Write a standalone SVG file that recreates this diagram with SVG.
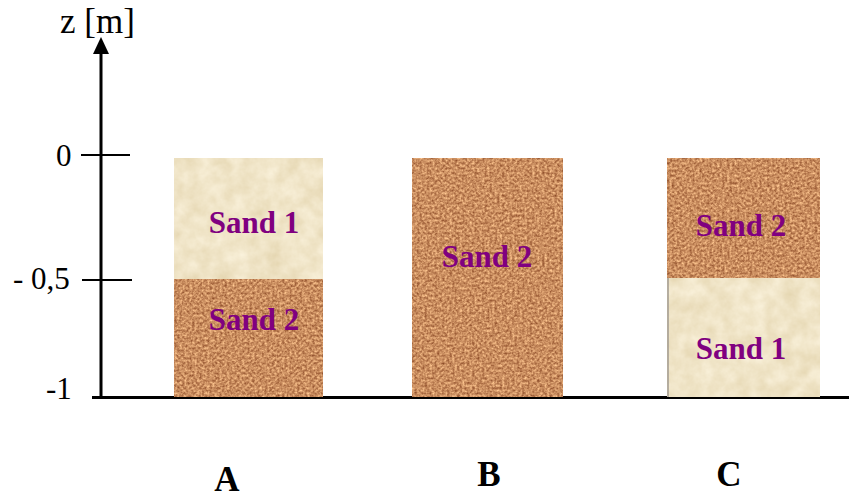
<svg xmlns="http://www.w3.org/2000/svg" width="850" height="499" viewBox="0 0 850 499">
<style>
.lbl{font-family:"Liberation Serif","Times New Roman",serif;font-weight:bold;font-size:31px;fill:#800080;}
.col{font-family:"Liberation Serif","Times New Roman",serif;font-weight:bold;font-size:35px;fill:#000;}
.ax{font-family:"Liberation Serif","Times New Roman",serif;font-size:31px;fill:#000;}
.axline{stroke:#000;stroke-width:3;fill:none;}
.tick{stroke:#000;stroke-width:2;fill:none;}
</style>
<defs>
<filter id="sand1" x="0" y="0" width="100%" height="100%" color-interpolation-filters="sRGB">
<feTurbulence type="fractalNoise" baseFrequency="0.06" numOctaves="4" seed="5" result="n"/>
<feColorMatrix in="n" type="matrix" values="0.1 0 0 0 0.89  0.13 0 0 0 0.83  0.2 0 0 0 0.68  0 0 0 0 1" result="c"/>
<feComposite in="c" in2="SourceGraphic" operator="in"/>
</filter>
<filter id="sand2" x="0" y="0" width="100%" height="100%" color-interpolation-filters="sRGB">
<feTurbulence type="fractalNoise" baseFrequency="0.4" numOctaves="2" seed="11" result="n"/>
<feColorMatrix in="n" type="matrix" values="0.6 0 0 0 0.49  0.65 0 0 0 0.23  0.55 0 0 0 0.1  0 0 0 0 1" result="c"/>
<feComposite in="c" in2="SourceGraphic" operator="in"/>
</filter>
</defs>

<g id="axis">
<line class="axline" x1="101" y1="398" x2="101" y2="52"/>
<polygon points="101,37 93,54 109,54" fill="#000"/>
<line class="tick" x1="81" y1="155" x2="130" y2="155"/>
<line class="tick" x1="82" y1="280" x2="132" y2="280"/>
<line class="axline" x1="92" y1="397.5" x2="849" y2="397.5"/>
<text class="ax" x="60" y="33" style="font-size:35px">z [m]</text>
<text class="ax" x="56" y="166">0</text>
<text class="ax" x="13" y="289">- 0,5</text>
<text class="ax" x="46" y="399">-1</text>
</g>

<g id="column-A">
<rect x="174" y="158" width="149" height="121" fill="#f0e2c2" filter="url(#sand1)"/>
<rect x="174" y="279" width="149" height="118" fill="#c98f5f" filter="url(#sand2)"/>
<text class="lbl" x="254" y="233" text-anchor="middle">Sand 1</text>
<text class="lbl" x="254" y="330" text-anchor="middle">Sand 2</text>
<text class="col" x="227" y="491" text-anchor="middle">A</text>
</g>

<g id="column-B">
<rect x="412" y="158" width="151" height="239" fill="#c98f5f" filter="url(#sand2)"/>
<text class="lbl" x="487" y="267" text-anchor="middle">Sand 2</text>
<text class="col" x="489" y="486" text-anchor="middle">B</text>
</g>

<g id="column-C">
<rect x="667" y="158" width="153" height="120" fill="#c98f5f" filter="url(#sand2)"/>
<rect x="667" y="278" width="153" height="119" fill="#f0e2c2" filter="url(#sand1)"/>
<line x1="668" y1="278" x2="668" y2="397" stroke="#a09a90" stroke-width="1.5"/>
<text class="lbl" x="741" y="236" text-anchor="middle">Sand 2</text>
<text class="lbl" x="741" y="359" text-anchor="middle">Sand 1</text>
<text class="col" x="729" y="486" text-anchor="middle">C</text>
</g>

<g id="connectors"></g>
</svg>
